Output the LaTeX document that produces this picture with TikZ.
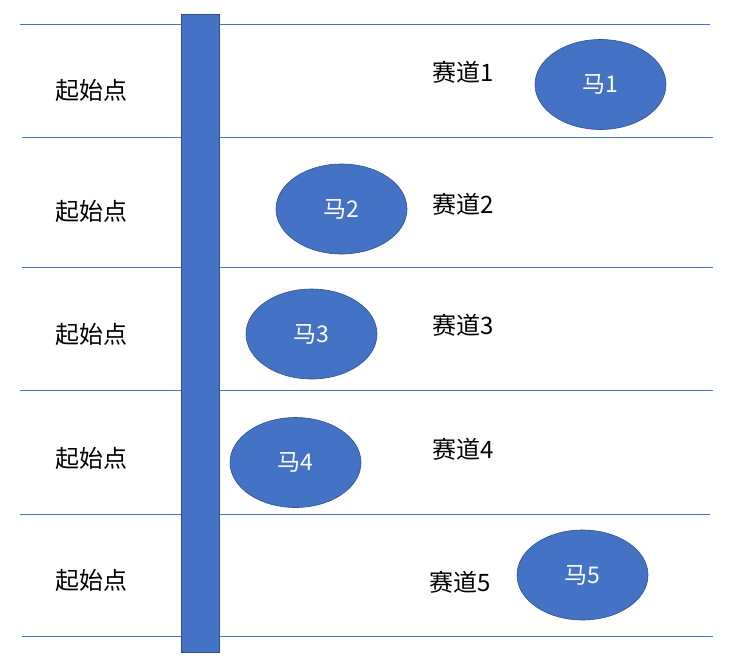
\documentclass[tikz,border=0pt]{standalone}
\usepackage{fontspec}
\usetikzlibrary{shapes.geometric}
\setmainfont{Noto Sans CJK SC}
\definecolor{blu}{HTML}{4472C4}
\definecolor{bdr}{HTML}{2F528F}
\begin{document}
\begin{tikzpicture}[x=1pt,y=-1pt,
  lane/.style={draw=blu,line width=0.9pt},
  horse/.style={ellipse,fill=blu,draw=bdr,line width=0.6pt,minimum width=131pt,minimum height=90pt,inner sep=0pt,text=white,font=\fontsize{23}{25}\selectfont},
  lbl/.style={font=\fontsize{24}{26}\selectfont,inner sep=0pt}]
\useasboundingbox (0,0) rectangle (746,656);
\coordinate (l0a) at (20,24);  \coordinate (l0b) at (710,24);
\coordinate (l1a) at (22,137); \coordinate (l1b) at (713,137);
\coordinate (l2a) at (22,267); \coordinate (l2b) at (713,267);
\coordinate (l3a) at (20,390); \coordinate (l3b) at (713,390);
\coordinate (l4a) at (20,514); \coordinate (l4b) at (710,514);
\coordinate (l5a) at (22,636); \coordinate (l5b) at (713,636);
\foreach \i in {0,...,5} { \draw[lane] (l\i a) -- (l\i b); }
\node[draw=bdr,fill=blu,line width=0.6pt,minimum width=38pt,minimum height=638pt,inner sep=0pt] (bar) at (200,333) {};
\node[lbl] (s1) at (91,90) {起始点};
\node[lbl] (s2) at (91,211) {起始点};
\node[lbl] (s3) at (91,334) {起始点};
\node[lbl] (s4) at (91,458) {起始点};
\node[lbl] (s5) at (91,580) {起始点};
\node[lbl] (t1) at (463,72) {赛道1};
\node[lbl] (t2) at (463,204) {赛道2};
\node[lbl] (t3) at (463,325) {赛道3};
\node[lbl] (t4) at (463,449) {赛道4};
\node[lbl] (t5) at (460,582) {赛道5};
\node[horse] (h1) at (600.5,84.5) {马1};
\node[horse] (h2) at (341.5,209) {马2};
\node[horse] (h3) at (311.5,334) {马3};
\node[horse] (h4) at (295.5,462.5) {马4};
\node[horse] (h5) at (582.5,575) {马5};
\end{tikzpicture}
\end{document}
